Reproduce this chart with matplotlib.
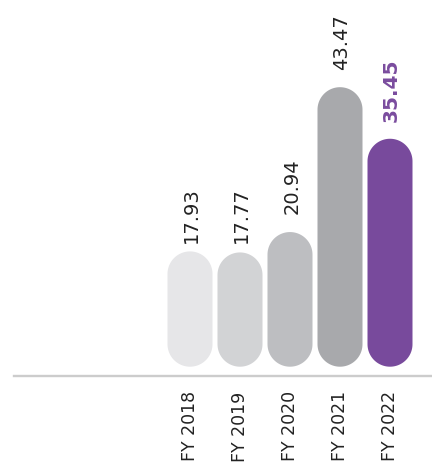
import numpy as np
import matplotlib.pyplot as plt
from matplotlib.patches import Polygon

years = ["FY 2018", "FY 2019", "FY 2020", "FY 2021", "FY 2022"]
values = [17.93, 17.77, 20.94, 43.47, 35.45]
bar_colors = ["#e6e6e8", "#d2d3d5", "#bdbec1", "#a8a9ac", "#784a9c"]
label_colors = ["#222222", "#222222", "#222222", "#222222", "#7a4c9e"]
label_bold = [False, False, False, False, True]
label_gap_px = [8, 9, 18, 17, 17]

W, H, DPI = 432, 473, 100
fig = plt.figure(figsize=(W / DPI, H / DPI), dpi=DPI)

# axes placed so the bottom spine is the grey base line
ax_left, ax_bottom = 14, 97
ax = fig.add_axes([ax_left / W, ax_bottom / H, (W - ax_left) / W, (H - ax_bottom) / H])

px_per_x = 50.0
px_per_y = 6.43
x0_px = 190.0          # centre of first bar
bar_base_gap = 9.3     # px between bar bottom and base line

ax.set_xlim((ax_left - x0_px) / px_per_x, (W - x0_px) / px_per_x)
ybot = -bar_base_gap / px_per_y
ax.set_ylim(ybot, ybot + (H - ax_bottom) / px_per_y)

bar_w = 0.9
r_x = bar_w / 2
r_y = r_x * px_per_x / px_per_y   # cap radius in y units (round on screen)
t_top = np.linspace(0, np.pi, 60)
t_bot = np.linspace(np.pi, 2 * np.pi, 60)


def pill(xc, v):
    top = np.column_stack([xc + r_x * np.cos(t_top), v - r_y + r_y * np.sin(t_top)])
    bot = np.column_stack([xc + r_x * np.cos(t_bot), r_y + r_y * np.sin(t_bot)])
    return np.vstack([top, bot])


for i, v in enumerate(values):
    ax.add_patch(Polygon(pill(i, v), closed=True, facecolor=bar_colors[i],
                         edgecolor="none"))
    ax.annotate(f"{v:.2f}", xy=(i, v), xytext=(1.2, label_gap_px[i] * 0.72),
                textcoords="offset points", rotation=90, ha="center", va="bottom",
                fontsize=14.5 if label_bold[i] else 14,
                fontweight="bold" if label_bold[i] else "normal",
                color=label_colors[i])

ax.set_xticks(range(len(years)))
ax.set_xticklabels(years, rotation=90, fontsize=12.5, color="#222222")
ax.tick_params(axis="x", length=0, pad=11)
ax.set_yticks([])
for s in ["top", "left", "right"]:
    ax.spines[s].set_visible(False)
ax.spines["bottom"].set_color("#cccccc")
ax.spines["bottom"].set_linewidth(1.7)
ax.patch.set_alpha(0)

fig.savefig("out.png", dpi=DPI)
